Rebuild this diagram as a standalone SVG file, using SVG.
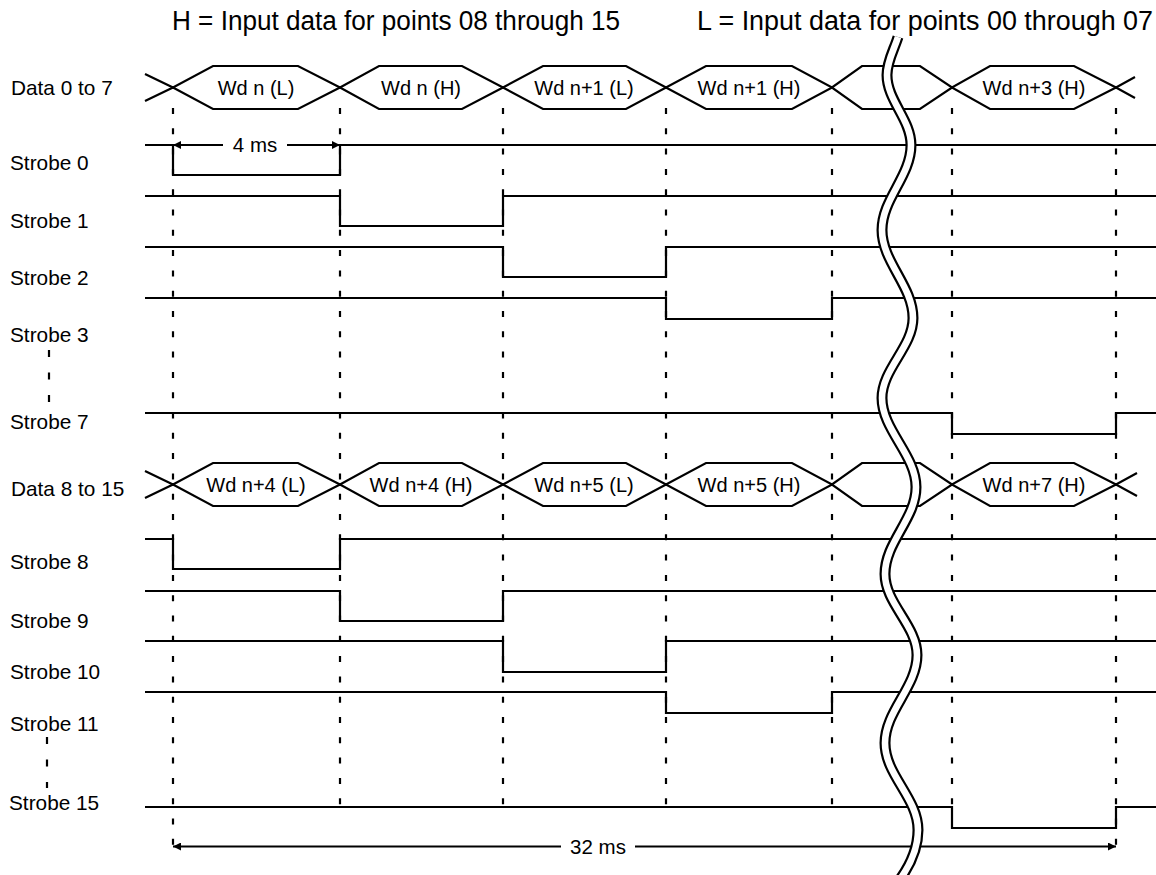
<svg xmlns="http://www.w3.org/2000/svg" width="1156" height="875" viewBox="0 0 1156 875">
<defs>
<style>
.w{fill:none;stroke:#000;stroke-width:2.2;stroke-linejoin:miter}
.d{fill:none;stroke:#000;stroke-width:2.2;stroke-dasharray:6 14.3}
.ld{fill:none;stroke:#000;stroke-width:2.2;stroke-dasharray:7 15.5}
text{font-family:"Liberation Sans",Arial,Helvetica,sans-serif;fill:#000}
.lb{font-size:20.8px}
.hx{font-size:20px;text-anchor:middle}
.tt{font-size:27px}
.dim{font-size:20.5px;text-anchor:middle}
</style>
<marker id="ah" viewBox="0 0 10 10" refX="10" refY="5" markerWidth="8" markerHeight="8" markerUnits="userSpaceOnUse" orient="auto-start-reverse">
<path d="M0,0 L10,5 L0,10 z" fill="#000"/>
</marker>
</defs>
<rect width="1156" height="875" fill="#fff"/>

<g id="titles">
<text class="tt" x="172" y="30" textLength="448" lengthAdjust="spacingAndGlyphs">H = Input data for points 08 through 15</text>
<text class="tt" x="697" y="30" textLength="456" lengthAdjust="spacingAndGlyphs">L = Input data for points 00 through 07</text>
</g>

<g id="connectors">
<path class="d" d="M173,108 V846"/>
<path class="d" d="M340,108 V807"/>
<path class="d" d="M503,108 V807"/>
<path class="d" d="M666,108 V807"/>
<path class="d" d="M832,108 V807"/>
<path class="d" d="M952,108 V807"/>
<path class="d" d="M1116,108 V846"/>
<path class="ld" d="M49,350 V404"/>
<path class="ld" d="M47,737 V788"/>
</g>

<g id="data0to7">
<text class="lb" x="11" y="95">Data 0 to 7</text>
<path class="w" d="M145,74 L173,87.5 L213,66 L298,66 L340,87.5 L379,66 L462,66 L503,87.5 L543,66 L626,66 L666,87.5 L706,66 L792,66 L832,87.5 L862,66 L920,66 L952,87.5 L990,66 L1074,66 L1116,87.5 L1135,77"/>
<path class="w" d="M145,101 L173,87.5 L213,109 L298,109 L340,87.5 L379,109 L462,109 L503,87.5 L543,109 L626,109 L666,87.5 L706,109 L792,109 L832,87.5 L862,109 L920,109 L952,87.5 L990,109 L1074,109 L1116,87.5 L1135,98"/>
<text class="hx" x="256" y="94.5">Wd n (L)</text>
<text class="hx" x="421" y="94.5">Wd n (H)</text>
<text class="hx" x="584" y="94.5">Wd n+1 (L)</text>
<text class="hx" x="749" y="94.5">Wd n+1 (H)</text>
<text class="hx" x="1034" y="94.5">Wd n+3 (H)</text>
</g>

<g id="strobe0">
<text class="lb" x="10" y="170">Strobe 0</text>
<path class="w" d="M145,145 H173 V175 H340 V145 H1156"/>
</g>
<g id="dim4ms">
<path class="w" d="M223,145 H173" marker-end="url(#ah)"/>
<path class="w" d="M287,145 H340" marker-end="url(#ah)"/>
<text class="dim" x="255" y="152">4 ms</text>
</g>
<g id="strobe1">
<text class="lb" x="10" y="228">Strobe 1</text>
<path class="w" d="M145,196 H340 V226 H503 V196 H1156"/>
</g>
<g id="strobe2">
<text class="lb" x="10" y="285">Strobe 2</text>
<path class="w" d="M145,247 H503 V277 H666 V247 H1156"/>
</g>
<g id="strobe3">
<text class="lb" x="10" y="342">Strobe 3</text>
<path class="w" d="M145,298 H666 V319 H832 V298 H1156"/>
</g>
<g id="strobe7">
<text class="lb" x="10" y="429">Strobe 7</text>
<path class="w" d="M145,413 H952 V434 H1116 V413 H1156"/>
</g>

<g id="data8to15">
<text class="lb" x="11" y="496">Data 8 to 15</text>
<path class="w" d="M145,471 L173,484.5 L213,463 L298,463 L340,484.5 L379,463 L462,463 L503,484.5 L543,463 L626,463 L666,484.5 L706,463 L792,463 L832,484.5 L862,463 L920,463 L952,484.5 L990,463 L1074,463 L1116,484.5 L1137,473"/>
<path class="w" d="M145,498 L173,484.5 L213,506 L298,506 L340,484.5 L379,506 L462,506 L503,484.5 L543,506 L626,506 L666,484.5 L706,506 L792,506 L832,484.5 L862,506 L920,506 L952,484.5 L990,506 L1074,506 L1116,484.5 L1137,496"/>
<text class="hx" x="256" y="491.5">Wd n+4 (L)</text>
<text class="hx" x="421" y="491.5">Wd n+4 (H)</text>
<text class="hx" x="584" y="491.5">Wd n+5 (L)</text>
<text class="hx" x="749" y="491.5">Wd n+5 (H)</text>
<text class="hx" x="1034" y="491.5">Wd n+7 (H)</text>
</g>

<g id="strobe8">
<text class="lb" x="10" y="569">Strobe 8</text>
<path class="w" d="M145,539 H173 V569 H340 V539 H1156"/>
</g>
<g id="strobe9">
<text class="lb" x="10" y="628">Strobe 9</text>
<path class="w" d="M145,591 H340 V621 H503 V591 H1156"/>
</g>
<g id="strobe10">
<text class="lb" x="10" y="679">Strobe 10</text>
<path class="w" d="M145,641 H503 V672 H666 V641 H1156"/>
</g>
<g id="strobe11">
<text class="lb" x="10" y="731">Strobe 11</text>
<path class="w" d="M145,692 H666 V713 H832 V692 H1156"/>
</g>
<g id="strobe15">
<text class="lb" x="9" y="810">Strobe 15</text>
<path class="w" d="M145,807 H952 V828 H1116 V807 H1156"/>
</g>

<g id="dim32ms">
<path class="w" d="M561,846.5 H173" marker-end="url(#ah)"/>
<path class="w" d="M635,846.5 H1116" marker-end="url(#ah)"/>
<text class="dim" x="598" y="854">32 ms</text>
</g>

<g id="break">
<path d="M898,37 C894,50 887,61 887,75 C887,100.5 911,119.5 911,145 C911,176 882,199 882,230 C882,262 913,286 913,318 C913,347 882,369 882,398 C882,430 916,455 916,487 C916,519 885,542 885,574 C885,603.5 917,625.5 917,655 C917,687 885,711 885,743 C885,775 918,798 918,830 C918,850 910,866 898,882" fill="none" stroke="#000" stroke-width="11"/>
<path d="M898,37 C894,50 887,61 887,75 C887,100.5 911,119.5 911,145 C911,176 882,199 882,230 C882,262 913,286 913,318 C913,347 882,369 882,398 C882,430 916,455 916,487 C916,519 885,542 885,574 C885,603.5 917,625.5 917,655 C917,687 885,711 885,743 C885,775 918,798 918,830 C918,850 910,866 898,882" fill="none" stroke="#fff" stroke-width="6.6"/>
</g>
</svg>
